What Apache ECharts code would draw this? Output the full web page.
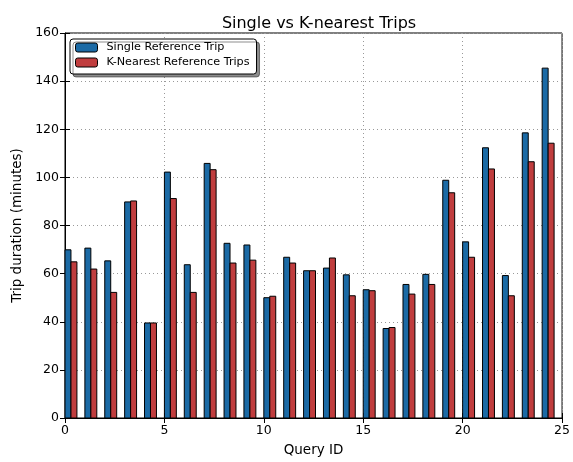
<!DOCTYPE html>
<html><head><meta charset="utf-8">
<script src="https://cdn.jsdelivr.net/npm/echarts@6/dist/echarts.min.js"></script>
<style>html,body{margin:0;padding:0;background:#fff}#c{width:573px;height:462px}</style>
</head><body><div id="c"></div>
<script>
const queryIds = [0,1,2,3,4,5,6,7,8,9,10,11,12,13,14,15,16,17,18,19,20,21,22,23,24];
const singleTrip = [69.9,70.6,65.3,89.8,39.5,102.2,63.7,105.8,72.6,71.9,50.0,66.8,61.2,62.3,59.5,53.3,37.2,55.5,59.7,98.8,73.2,112.3,59.2,118.5,145.4];
const kNearest = [64.9,61.9,52.2,90.2,39.5,91.2,52.2,103.2,64.4,65.6,50.6,64.4,61.2,66.5,50.8,52.9,37.6,51.5,55.5,93.6,66.8,103.5,50.8,106.5,114.2];
const xTicks = [0,5,10,15,20,25];
const yTicks = [0,20,40,60,80,100,120,140,160];
const barW = 0.3;

const FONT = 'DejaVu Sans';
const BLUE = '#1b6aa5', RED = '#c03d3e';
function barSeries(name, values, offset, color){
  return {
    type:'custom', name, xAxisIndex:0, yAxisIndex:0,
    data: queryIds.map((q,i)=>[q, values[i]]),
    itemStyle:{color},
    renderItem(params, api){
      const x = api.value(0), y = api.value(1);
      const p0 = api.coord([x+offset, y]);
      const p1 = api.coord([x+offset+barW, 0]);
      return {type:'rect', shape:{x:p0[0], y:p0[1], width:p1[0]-p0[0], height:p1[1]-p0[1]},
        style:{fill:color, stroke:'#000', lineWidth:1}};
    }
  };
}
const chart = echarts.init(document.getElementById('c'), null, {renderer:'canvas'});
const gridLine = {show:true, lineStyle:{color:'#999', type:[1,3], width:1}};
const tick = {show:true, inside:true, length:5, lineStyle:{color:'#000'}};
chart.setOption({
  animation:false,
  title:{text:'Single vs K-nearest Trips', left:314, top:11, textAlign:'center',
    textStyle:{fontFamily:FONT, fontSize:16, fontWeight:'normal', color:'#000'}},
  legend:{orient:'vertical', left:70, top:39, padding:[3,7,6,5], itemGap:4,
    itemWidth:22, itemHeight:9, borderColor:'#000', borderWidth:1, borderRadius:3,
    backgroundColor:'#fff', shadowColor:'rgba(0,0,0,0.45)', shadowOffsetX:3, shadowOffsetY:3, shadowBlur:0,
    textStyle:{fontFamily:FONT, fontSize:11.2, color:'#000', padding:[0,0,0,4]},
    data:[{name:'Single Reference Trip', itemStyle:{color:BLUE, borderColor:'#000', borderWidth:1}},
          {name:'K-Nearest Reference Trips', itemStyle:{color:RED, borderColor:'#000', borderWidth:1}}]},
  grid:{left:65, right:9, top:33, bottom:42, containLabel:false, show:true, borderColor:'#000', borderWidth:1, backgroundColor:'transparent'},
  xAxis:[
    {type:'value', min:0, max:25, interval:5, name:'Query ID', nameLocation:'middle', nameGap:25,
     nameTextStyle:{fontFamily:FONT, fontSize:13.5, color:'#000'},
     axisLine:{show:true, lineStyle:{color:'#000', width:1}},
     axisTick:tick,
     axisLabel:{fontFamily:FONT, fontSize:12.5, color:'#000', margin:6},
     splitLine:gridLine},
    {type:'value', position:'top', min:0, max:25, interval:5,
     axisLine:{show:false}, axisTick:tick, axisLabel:{show:false}, splitLine:{show:false}}
  ],
  yAxis:[
    {type:'value', min:0, max:160, interval:20, name:'Trip duration (minutes)', nameLocation:'middle', nameGap:35,
     nameTextStyle:{fontFamily:FONT, fontSize:13.5, color:'#000'},
     axisLine:{show:true, lineStyle:{color:'#000', width:1}},
     axisTick:tick,
     axisLabel:{fontFamily:FONT, fontSize:12.5, color:'#000', margin:6},
     splitLine:gridLine},
    {type:'value', position:'right', min:0, max:160, interval:20,
     axisLine:{show:false}, axisTick:tick, axisLabel:{show:false}, splitLine:{show:false}}
  ],
  series:[
    barSeries('Single Reference Trip', singleTrip, 0, BLUE),
    barSeries('K-Nearest Reference Trips', kNearest, barW, RED)
  ]
});
</script></body></html>
